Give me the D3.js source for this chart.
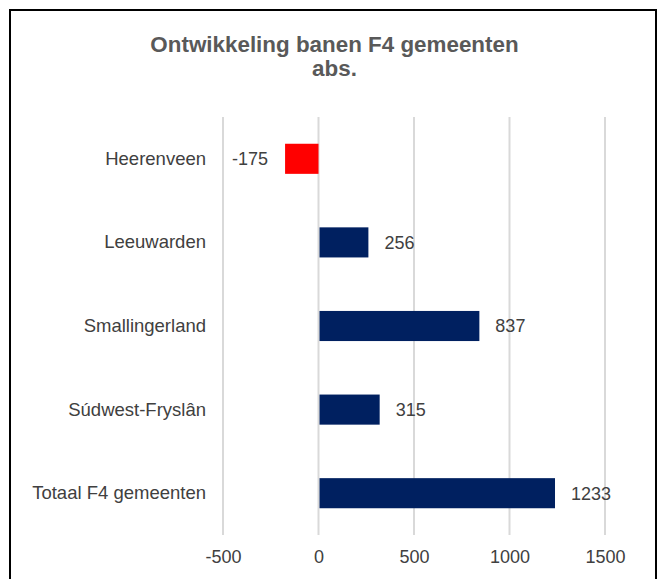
<!DOCTYPE html>
<html>
<head>
<meta charset="utf-8">
<script src="https://cdn.jsdelivr.net/npm/d3@7"></script>
<style>
  body { margin: 0; background: #fff; }
  svg { font-family: "Liberation Sans", Arial, sans-serif; }
</style>
</head>
<body>
<div id="chart"></div>
<script>
const CATEGORIES = ['Heerenveen', 'Leeuwarden', 'Smallingerland', 'Súdwest-Fryslân', 'Totaal F4 gemeenten'];
const VALUES = [-175, 256, 837, 315, 1233];
const TICKS = [-500, 0, 500, 1000, 1500];
const TITLE_LINES = ['Ontwikkeling banen F4 gemeenten', 'abs.'];

const NAVY = '#002060';
const RED = '#ff0000';
const TEXT_COLOR = '#404040';
const GRID_COLOR = '#d9d9d9';
const FONT = '"Liberation Sans", Arial, sans-serif';

const W = 662, H = 579;
const PLOT = { left: 223, right: 605, top: 117, bottom: 535 };

const svg = d3.select('#chart').append('svg')
  .attr('width', W)
  .attr('height', H);

// frame round the chart (bottom edge falls outside the picture)
svg.append('rect')
  .attr('x', 10).attr('y', 10)
  .attr('width', 646).attr('height', 580)
  .attr('fill', 'none')
  .attr('stroke', '#000')
  .attr('stroke-width', 2);

// title
svg.append('g').selectAll('text')
  .data(TITLE_LINES)
  .enter()
  .append('text')
  .attr('x', 334.5)
  .attr('y', (d, i) => 52 + i * 24)
  .attr('text-anchor', 'middle')
  .attr('font-size', '22.4px')
  .attr('font-weight', 'bold')
  .attr('fill', '#595959')
  .text(d => d);

const x = d3.scaleLinear()
  .domain([-500, 1500])
  .range([PLOT.left, PLOT.right]);

const y = d3.scaleBand()
  .domain(CATEGORIES)
  .range([PLOT.top, PLOT.bottom])
  .paddingInner(0.64)
  .paddingOuter(0.32);

// vertical gridlines
svg.append('g').selectAll('line')
  .data(TICKS)
  .enter()
  .append('line')
  .attr('x1', d => x(d)).attr('x2', d => x(d))
  .attr('y1', PLOT.top).attr('y2', PLOT.bottom)
  .attr('stroke', GRID_COLOR)
  .attr('stroke-width', 2);

// x axis tick labels (plain hyphen for negatives, like the original)
const xAxis = d3.axisBottom(x).tickValues(TICKS).tickSize(0).tickPadding(0).tickFormat(d => String(d));
const ax = svg.append('g')
  .attr('transform', 'translate(0,563)')
  .call(xAxis);
ax.select('.domain').remove();
ax.selectAll('text')
  .attr('font-family', FONT)
  .attr('font-size', '18px')
  .attr('fill', TEXT_COLOR)
  .attr('dy', 0);

// category labels
const yAxis = d3.axisLeft(y).tickSize(0).tickPadding(0);
const ay = svg.append('g')
  .attr('transform', 'translate(206,0)')
  .call(yAxis);
ay.select('.domain').remove();
ay.selectAll('text')
  .attr('font-family', FONT)
  .attr('font-size', '18.5px')
  .attr('fill', TEXT_COLOR);

const rows = CATEGORIES.map((c, i) => ({ cat: c, val: VALUES[i] }));

// bars
svg.append('g').selectAll('rect')
  .data(rows)
  .enter()
  .append('rect')
  .attr('x', d => d.val < 0 ? x(d.val) : x(0) + 1)
  .attr('y', d => y(d.cat))
  .attr('width', d => Math.abs(x(d.val) - x(0)))
  .attr('height', y.bandwidth())
  .attr('fill', d => d.val < 0 ? RED : NAVY);

// value labels
svg.append('g').selectAll('text')
  .data(rows)
  .enter()
  .append('text')
  .attr('x', d => d.val < 0 ? x(d.val) - 17 : x(d.val) + 17)
  .attr('y', d => y(d.cat) + y.bandwidth() / 2)
  .attr('dy', '0.35em')
  .attr('text-anchor', d => d.val < 0 ? 'end' : 'start')
  .attr('font-size', '18px')
  .attr('fill', TEXT_COLOR)
  .text(d => d.val);
</script>
</body>
</html>
